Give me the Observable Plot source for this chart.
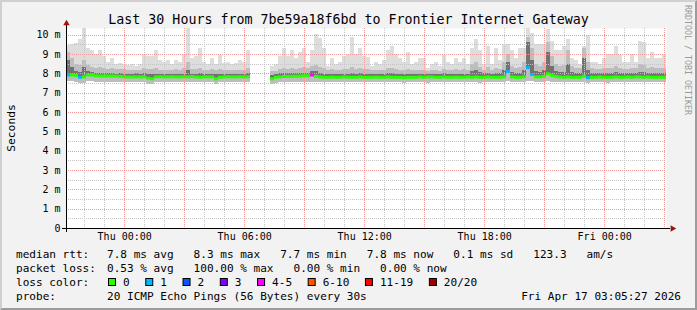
<!DOCTYPE html>
<html><head><meta charset="utf-8">
<script src="https://cdn.jsdelivr.net/npm/d3@7"></script>
<script src="https://cdn.jsdelivr.net/npm/@observablehq/plot@0.6"></script>
<style>
html,body{margin:0;padding:0;background:#fff;}
#wrap{position:relative;width:697px;height:310px;background:#f2f2f2;overflow:hidden;}
#wrap > *{position:absolute;left:0;top:0;}
#border{width:697px;height:310px;box-sizing:border-box;border-style:solid;border-width:2px;border-color:#d0d0d0 #9c9c9c #9c9c9c #d0d0d0;}
</style></head><body><div id="wrap"><div id="border"></div></div>
<script>
// ---- data (12-minute bins, 30 hours ending Fri Apr 17 03:05:27) ----
const titleText = "Last 30 Hours from 7be59a18f6bd to Frontier Internet Gateway";
const startTime = new Date(Date.UTC(2026, 3, 15, 21, 5, 27));
const binMinutes = 12;
const yTopMs = 10.35;
const yTickValues = [0,1,2,3,4,5,6,7,8,9,10];
const yMinorValues = [0.5,1.5,2.5,3.5,4.5,5.5,6.5,7.5,8.5,9.5];
const yMajorValues = [1,2,3,4,5,6,7,8,9,10];

// median rtt (ms) per bin
const medianMs = [
 7.92,7.92,7.9,7.8,7.82,7.92,7.92,7.88,7.87,7.87,
 7.87,7.87,7.86,7.85,7.83,7.82,7.82,7.82,7.82,7.83,
 7.76,7.72,7.82,7.83,7.82,7.82,7.83,7.82,7.82,7.83,
 7.82,7.84,7.82,7.8,7.82,7.82,7.82,7.72,7.8,7.82,
 7.83,7.82,7.82,7.83,7.82,7.83,null,null,null,null,
 null,7.72,7.8,7.82,7.84,7.85,7.85,7.86,7.86,7.88,
 7.88,7.92,7.85,7.82,7.8,7.8,7.81,7.8,7.8,7.82,
 7.81,7.8,7.8,7.82,7.8,7.8,7.8,7.81,7.8,7.8,
 7.82,7.8,7.8,7.8,7.78,7.8,7.8,7.8,7.82,7.8,
 7.82,7.82,7.8,7.8,7.82,7.8,7.8,7.81,7.8,7.8,
 7.82,7.8,7.82,7.8,7.8,7.82,7.8,7.8,7.8,7.82,
 8.1,7.82,7.8,7.8,7.82,8.3,7.95,7.82,7.82,7.85,
 7.98,7.9,7.85,7.82,7.8,7.82,7.8,7.8,7.8,7.85,
 7.78,7.8,7.8,7.82,7.8,7.8,7.8,7.82,7.8,7.8,
 7.82,7.8,7.82,7.82,7.8,7.82,7.8,7.8,7.8,7.8
];
// lost pings (of 20) per bin
const lossCount = [
 1,0,0,1,0,0,0,0,0,0,
 0,0,0,0,0,0,0,0,0,0,
 0,0,0,0,0,0,0,0,0,0,
 0,0,0,0,0,0,0,0,0,0,
 0,0,0,0,0,0,null,null,null,null,
 null,0,0,0,0,0,0,0,0,0,
 0,4,0,0,0,0,0,0,0,0,
 0,0,0,0,0,0,0,0,0,0,
 0,0,0,0,0,0,0,0,0,0,
 0,0,0,0,0,0,0,0,0,0,
 0,0,0,0,0,0,0,0,0,0,
 1,0,0,0,0,1,1,0,0,0,
 0,0,0,0,0,0,0,0,0,0,
 1,0,0,0,0,0,0,0,0,0,
 0,0,0,0,0,0,0,0,0,0
];
// slowest ping per bin (light smoke top)
const pingMax = [
 9.45,9.5,9.55,9.8,10.35,9.3,9.2,9.0,9.2,8.9,
 8.6,8.8,8.5,8.55,8.5,8.45,8.5,8.4,8.5,9.0,
 8.9,8.9,9.2,8.7,8.6,8.7,8.5,8.7,8.6,9.0,
 10.35,8.8,8.9,9.3,8.6,8.5,8.8,8.5,8.95,8.55,
 8.6,8.5,8.55,8.7,8.6,9.2,null,null,null,null,
 null,8.4,8.5,8.9,9.3,8.9,9.2,8.8,9.1,9.3,
 8.6,9.2,10.05,9.85,9.3,8.4,8.8,8.5,8.6,8.9,
 9.0,9.9,9.0,9.3,8.9,8.85,8.4,8.6,8.5,8.7,
 9.2,9.4,9.0,8.8,8.6,9.1,8.5,8.6,8.8,8.8,
 8.3,8.5,8.6,8.4,8.95,8.6,8.5,8.8,8.6,8.8,
 8.5,9.3,9.8,9.2,8.5,9.4,8.5,9.3,8.7,9.5,
 9.5,9.2,8.8,9.3,9.3,10.35,10.1,9.5,9.5,9.5,
 10.3,9.7,9.2,9.2,9.4,9.8,8.8,8.7,8.5,9.4,
 9.97,8.6,8.6,8.5,8.8,9.0,9.0,9.4,8.95,8.6,
 8.6,9.0,8.6,9.7,9.6,8.8,9.1,8.8,8.8,9.0
];
// upper ping band (medium smoke top)
const pingHi = [
 9.1,8.8,8.5,8.45,8.7,8.45,8.35,8.3,8.35,8.3,
 8.25,8.3,8.25,8.25,8.25,8.2,8.2,8.2,8.2,8.3,
 8.25,8.25,8.3,8.2,8.2,8.2,8.2,8.25,8.2,8.3,
 8.6,8.25,8.25,8.3,8.2,8.2,8.25,8.2,8.25,8.2,
 8.2,8.2,8.2,8.2,8.2,8.3,null,null,null,null,
 null,8.1,8.15,8.25,8.3,8.25,8.3,8.25,8.3,8.35,
 8.3,8.4,8.45,8.35,8.3,8.2,8.25,8.2,8.2,8.25,
 8.25,8.35,8.25,8.3,8.25,8.25,8.2,8.2,8.2,8.2,
 8.3,8.3,8.25,8.2,8.2,8.25,8.2,8.2,8.2,8.2,
 8.15,8.2,8.2,8.15,8.25,8.2,8.2,8.25,8.2,8.25,
 8.2,8.5,8.6,8.35,8.2,8.35,8.2,8.3,8.25,8.6,
 9.0,8.4,8.3,8.35,8.6,9.9,9.3,8.5,8.4,8.6,
 9.6,8.9,8.5,8.4,8.45,9.2,8.4,8.3,8.3,9.3,
 8.6,8.3,8.25,8.25,8.3,8.3,8.3,8.4,8.3,8.25,
 8.25,8.3,8.3,8.5,8.45,8.3,8.35,8.3,8.3,8.3
];
// pings close above the median (dark smoke top)
const pingMid = [
 8.7,8.35,8.1,8.05,8.35,8.1,8.05,8.0,8.0,8.0,
 8.0,8.0,7.98,8.0,7.98,7.98,7.98,8.0,7.98,8.02,
 7.95,7.95,7.98,7.98,7.98,7.98,7.98,7.98,7.98,7.98,
 8.2,7.98,7.98,8.0,7.98,7.98,7.98,7.95,7.98,7.98,
 7.98,7.98,7.98,7.98,7.98,8.0,null,null,null,null,
 null,7.9,7.95,8.0,8.0,8.0,8.0,8.0,8.0,8.02,
 8.02,8.1,8.1,8.0,7.98,7.98,7.98,7.98,7.98,7.98,
 7.98,8.02,7.98,8.0,7.98,7.98,7.98,7.98,7.98,7.98,
 8.0,8.0,7.98,7.98,7.96,7.98,7.98,7.98,7.98,7.98,
 7.98,7.98,7.98,7.98,8.0,7.98,7.98,7.98,7.98,7.98,
 7.98,8.15,8.2,8.05,8.0,8.0,7.98,8.0,8.0,8.2,
 8.6,8.05,8.0,8.0,8.2,9.6,8.7,8.1,8.05,8.2,
 9.1,8.4,8.1,8.05,8.05,8.5,8.05,8.0,8.0,8.8,
 8.2,8.0,8.0,8.0,8.0,8.0,8.0,8.05,8.0,8.0,
 8.0,8.0,8.0,8.05,8.05,8.0,8.0,8.0,8.0,8.0
];
// fastest ping per bin (smoke bottom)
const pingMin = [
 7.6,7.6,7.58,7.5,7.5,7.6,7.6,7.55,7.55,7.55,
 7.55,7.55,7.55,7.55,7.55,7.55,7.55,7.55,7.55,7.55,
 7.45,7.45,7.55,7.55,7.55,7.55,7.55,7.55,7.55,7.55,
 7.55,7.55,7.55,7.55,7.55,7.55,7.55,7.45,7.55,7.55,
 7.55,7.55,7.55,7.55,7.55,7.55,null,null,null,null,
 null,7.45,7.5,7.55,7.55,7.55,7.55,7.55,7.55,7.55,
 7.55,7.55,7.55,7.55,7.55,7.55,7.55,7.55,7.55,7.55,
 7.55,7.55,7.55,7.55,7.55,7.55,7.55,7.55,7.55,7.55,
 7.55,7.55,7.55,7.55,7.5,7.55,7.55,7.55,7.55,7.55,
 7.5,7.55,7.55,7.55,7.55,7.55,7.55,7.55,7.55,7.55,
 7.55,7.55,7.55,7.5,7.55,7.55,7.55,7.55,7.55,7.55,
 7.6,7.55,7.55,7.55,7.55,7.6,7.6,7.55,7.55,7.55,
 7.6,7.55,7.55,7.55,7.55,7.55,7.55,7.55,7.55,7.55,
 7.5,7.55,7.55,7.55,7.55,7.5,7.55,7.55,7.55,7.55,
 7.55,7.55,7.55,7.55,7.55,7.55,7.55,7.55,7.55,7.55
];
const lossLabels = ["0","1","2","3","4-5","6-10","11-19","20/20"];
const lossColors = ["#26ff00","#00b8ff","#0059ff","#7e00ff","#ff00ff","#ff5500","#ff0000","#a00000"];
const legendRows = [
  ["median rtt:", "7.8 ms avg   8.3 ms max   7.7 ms min   7.8 ms now   0.1 ms sd   123.3   am/s"],
  ["packet loss:", "0.53 % avg   100.00 % max   0.00 % min   0.00 % now"],
  ["loss color:", ""],
  ["probe:", "20 ICMP Echo Pings (56 Bytes) every 30s"]
];
const stampText = "Fri Apr 17 03:05:27 2026";
const watermarkText = "RRDTOOL / TOBI OETIKER";
const yLabelText = "Seconds";

// ---- build ----
const binMs = binMinutes * 60000;
const endTime = new Date(+startTime + medianMs.length * binMs);
function lossIndex(n) {
  if (n == null) return null;
  if (n <= 3) return n;
  if (n <= 5) return 4;
  if (n <= 10) return 5;
  if (n <= 19) return 6;
  return 7;
}
const rows = medianMs.map((m, i) => ({
  t0: new Date(+startTime + i * binMs),
  t1: new Date(+startTime + (i + 1) * binMs),
  med: m, max: pingMax[i], hi: pingHi[i], mid: pingMid[i], min: pingMin[i],
  color: lossCount[i] == null ? null : lossColors[lossIndex(lossCount[i])]
})).filter(d => d.med != null);

const hourTicks = d3.utcHour.range(startTime, endTime);
const minorX = hourTicks.filter(d => d.getUTCHours() % 3 !== 0);
const majorX = hourTicks.filter(d => d.getUTCHours() % 3 === 0);
const labelX = hourTicks.filter(d => d.getUTCHours() % 6 === 0);
const fmt = d3.utcFormat("%a %H:%M");
const MONO = "'DejaVu Sans Mono', monospace";

const chart = Plot.plot({
  width: 697, height: 310,
  marginLeft: 66, marginRight: 31, marginTop: 28, marginBottom: 82,
  x: {type: "utc", domain: [startTime, endTime]},
  y: {domain: [0, yTopMs]},
  color: {type: "identity"},
  style: {background: "transparent", fontFamily: MONO, fontSize: "10px", color: "#000", overflow: "visible"},
  marks: [
    Plot.frame({fill: "#ffffff", stroke: "none"}),
    Plot.rect(rows, {x1: "t0", x2: "t1", y1: "min", y2: "max", fill: "#dddddd", shapeRendering: "crispEdges"}),
    Plot.rect(rows, {x1: "t0", x2: "t1", y1: "min", y2: "hi", fill: "#bdbdbd", shapeRendering: "crispEdges"}),
    Plot.rect(rows, {x1: "t0", x2: "t1", y1: "med", y2: "mid", fill: "#727272", shapeRendering: "crispEdges"}),
    Plot.ruleY(yMinorValues, {stroke: "#c4c4c4", strokeDasharray: "1,1", shapeRendering: "crispEdges"}),
    Plot.ruleX(minorX, {stroke: "#c4c4c4", strokeDasharray: "1,1", shapeRendering: "crispEdges"}),
    Plot.ruleY(yMajorValues, {stroke: "#f29a9a", strokeDasharray: "1,1", shapeRendering: "crispEdges"}),
    Plot.ruleX(majorX, {stroke: "#f29a9a", strokeDasharray: "1,1", shapeRendering: "crispEdges"}),
    Plot.rect(rows, {x1: "t0", x2: "t1", y1: "med", y2: "med", insetTop: -1.5, insetBottom: -1.5, fill: "color"}),
    Plot.axisY({ticks: yTickValues, tickFormat: d => d === 0 ? "0" : `${d} m`, tickSize: 0, tickPadding: 6, label: null, fontSize: 10}),
    Plot.axisX({ticks: labelX, tickFormat: fmt, tickSize: 0, tickPadding: 4, label: null, fontSize: 10}),
    Plot.ruleY([0], {stroke: "#000", insetLeft: -4, insetRight: -4, shapeRendering: "crispEdges"}),
    Plot.ruleX([startTime], {stroke: "#000", insetTop: -4, insetBottom: -4, shapeRendering: "crispEdges"}),
    Plot.dot([{x: endTime, y: 0}], {x: "x", y: "y", symbol: "triangle", rotate: 90, r: 2.4, fill: "#a01010", stroke: "none", dx: 6}),
    Plot.dot([{x: startTime, y: yTopMs}], {x: "x", y: "y", symbol: "triangle", r: 2.4, fill: "#a01010", stroke: "none", dy: -5})
  ]
});
document.getElementById("wrap").appendChild(chart);

// ---- text overlay (title, unit label, legend, watermark) ----
const ov = d3.create("svg").attr("width", 697).attr("height", 310)
  .style("font-family", MONO).style("overflow", "visible");
ov.append("text").attr("x", 348.5).attr("y", 24).attr("text-anchor", "middle")
  .attr("font-size", 13.3).attr("fill", "#000").text(titleText);
ov.append("text").attr("transform", "translate(14.5,128) rotate(-90)").attr("text-anchor", "middle")
  .attr("font-size", 11.3).attr("fill", "#000").text(yLabelText);
ov.append("text").attr("transform", "translate(685,5) rotate(90)")
  .attr("font-size", 8.3).attr("fill", "#9a9a9a").text(watermarkText);
const baselines = [258, 272, 286, 300];
legendRows.forEach(([lab, val], i) => {
  ov.append("text").attr("x", 16).attr("y", baselines[i]).attr("font-size", 11.07)
    .style("white-space", "pre").text(lab);
  if (val) ov.append("text").attr("x", 107).attr("y", baselines[i]).attr("font-size", 11.07)
    .style("white-space", "pre").text(val);
});
let lx = 108;
lossLabels.forEach((lab, i) => {
  ov.append("rect").attr("x", lx + 0.5).attr("y", 278.5).attr("width", 7).attr("height", 7)
    .attr("fill", lossColors[i]).attr("stroke", "#000").attr("stroke-width", 1);
  ov.append("text").attr("x", lx + 15).attr("y", 286).attr("font-size", 11.07)
    .style("white-space", "pre").text(lab);
  lx += 15 + 6.667 * lab.length + 15.6;
});
ov.append("text").attr("x", 681).attr("y", 300).attr("text-anchor", "end").attr("font-size", 11.07)
  .style("white-space", "pre").text(stampText);
document.getElementById("wrap").appendChild(ov.node());
</script></body></html>
